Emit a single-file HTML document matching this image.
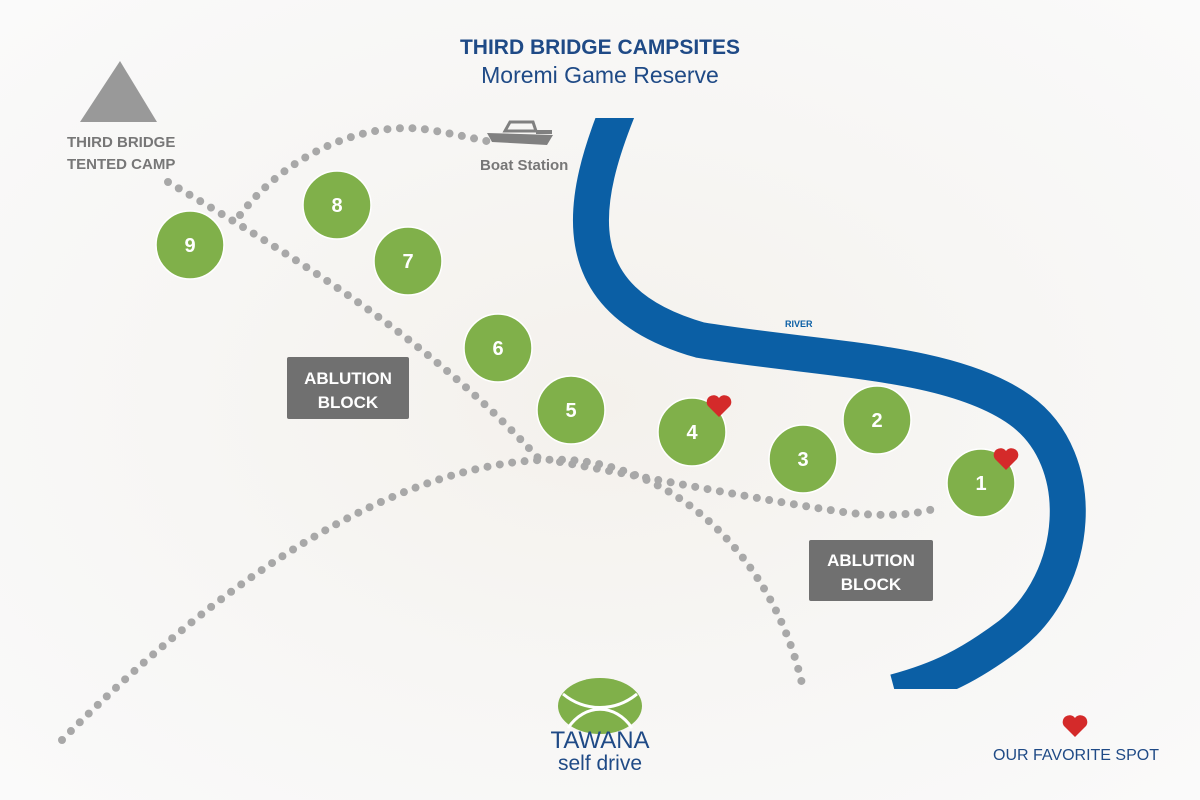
<!DOCTYPE html>
<html><head><meta charset="utf-8"><style>
html,body{margin:0;padding:0;}
body{width:1200px;height:800px;overflow:hidden;background:radial-gradient(ellipse at 50% 50%,#f4f1ec 0%,#f7f6f4 50%,#fafafa 100%);font-family:"Liberation Sans",sans-serif;}
</style></head><body>
<svg width="1200" height="800" viewBox="0 0 1200 800" xmlns="http://www.w3.org/2000/svg" style="position:absolute;left:0;top:0">
<g fill="none" stroke="#a8a8a8" stroke-width="8" stroke-linecap="round" stroke-dasharray="0 12.5">
<path d="M168,182 C300,260 430,340 540,460"/>
<path d="M62,740 C300,500 470,455 570,460 C680,468 775,560 803,688"/>
<path d="M560,462 C650,478 760,500 850,513 C900,518 925,512 940,507"/>
<path d="M240,215 C290,150 370,120 430,130 C460,135 480,140 492,142"/>
</g>
<clipPath id="c"><rect x="0" y="118" width="1200" height="571"/></clipPath>
<path clip-path="url(#c)" d="M622,100 C580,200 560,300 700,340 C820,360 950,360 1020,410 C1090,460 1080,580 1010,635 C970,665 940,680 895,692" fill="none" stroke="#0b5fa5" stroke-width="36"/>
<text x="785" y="327" font-size="9" font-weight="bold" fill="#0b5fa5">RIVER</text>
<polygon points="80,122 120,61 157,122" fill="#999"/>
<text font-size="15" font-weight="bold" fill="#777"><tspan x="67" y="147">THIRD BRIDGE</tspan><tspan x="67" y="169">TENTED CAMP</tspan></text>
<g fill="#808080">
<path d="M487,133 L553,135 L547,145 L492,142 Z"/>
<path d="M505,131 L510,122 L533,122 L536,131 Z" fill="none" stroke="#808080" stroke-width="3"/>
<rect x="536" y="130" width="16" height="4"/>
</g>
<text x="480" y="170" font-size="15" font-weight="bold" fill="#777">Boat Station</text>
<text x="600" y="54" font-size="21" font-weight="bold" fill="#1f4a86" text-anchor="middle">THIRD BRIDGE CAMPSITES</text>
<text x="600" y="83" font-size="23" fill="#1f4a86" text-anchor="middle">Moremi Game Reserve</text>
<g fill="#80b04a" stroke="#fff" stroke-width="1.5">
<circle cx="190" cy="245" r="34"/><circle cx="337" cy="205" r="34"/><circle cx="408" cy="261" r="34"/>
<circle cx="498" cy="348" r="34"/><circle cx="571" cy="410" r="34"/><circle cx="692" cy="432" r="34"/>
<circle cx="803" cy="459" r="34"/><circle cx="877" cy="420" r="34"/><circle cx="981" cy="483" r="34"/>
</g>
<g fill="#fff" font-size="20" font-weight="bold" text-anchor="middle">
<text x="190" y="252">9</text><text x="337" y="212">8</text><text x="408" y="268">7</text>
<text x="498" y="355">6</text><text x="571" y="417">5</text><text x="692" y="439">4</text>
<text x="803" y="466">3</text><text x="877" y="427">2</text><text x="981" y="490">1</text>
</g>
<g fill="#d42a2a">
<path d="M719,417 L708,406 A6,6 0 0 1 719,398 A6,6 0 0 1 730,406 Z"/>
<path d="M1006,470 L995,459 A6,6 0 0 1 1006,451 A6,6 0 0 1 1017,459 Z"/>
<path d="M1075,737 L1064,726 A6,6 0 0 1 1075,718 A6,6 0 0 1 1086,726 Z"/>
</g>
<rect x="287" y="357" width="122" height="62" rx="2" fill="#707070"/>
<text font-size="17" font-weight="bold" fill="#fff" text-anchor="middle"><tspan x="348" y="384">ABLUTION</tspan><tspan x="348" y="408">BLOCK</tspan></text>
<rect x="809" y="540" width="124" height="61" rx="2" fill="#707070"/>
<text font-size="17" font-weight="bold" fill="#fff" text-anchor="middle"><tspan x="871" y="566">ABLUTION</tspan><tspan x="871" y="590">BLOCK</tspan></text>
<text x="1076" y="760" font-size="16" fill="#1f4a86" text-anchor="middle">OUR FAVORITE SPOT</text>
<ellipse cx="600" cy="706" rx="42" ry="28" fill="#80b04a"/>
<path d="M563,694 C585,712 615,712 637,694" fill="none" stroke="#fff" stroke-width="3"/>
<path d="M568,728 C585,703 615,703 632,728" fill="none" stroke="#fff" stroke-width="3"/>
<text x="600" y="748" font-size="24" fill="#1f4a86" text-anchor="middle">TAWANA</text>
<text x="600" y="770" font-size="21" fill="#1f4a86" text-anchor="middle">self drive</text>
</svg>
</body></html>
